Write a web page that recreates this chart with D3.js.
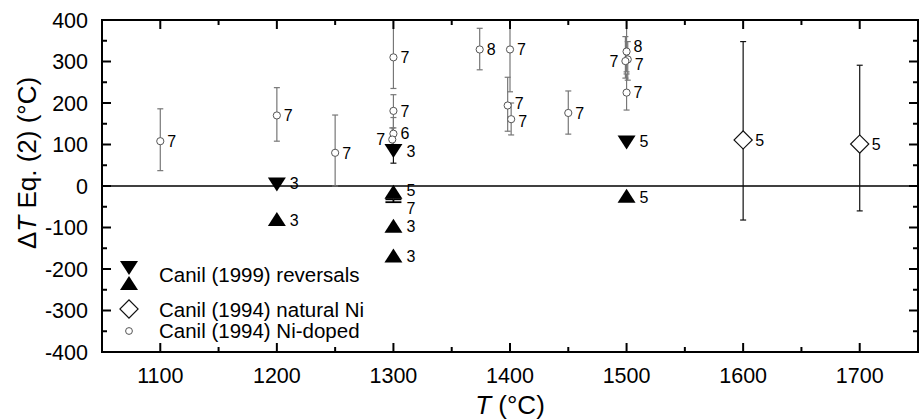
<!DOCTYPE html>
<html>
<head>
<meta charset="utf-8">
<script src="https://cdn.jsdelivr.net/npm/d3@7"></script>
<style>
  body { margin: 0; background: #fff; }
  svg { font-family: "Liberation Sans", Arial, sans-serif; }
</style>
</head>
<body>
<div id="chart"></div>
<script>
// Canil (1994) Ni-doped: [T, dT, errLow, errHigh, n, labelSide]
const niDoped = [
  [1100, 108, 37, 186, "7", "r"],
  [1200, 170, 108, 237, "7", "r"],
  [1250, 80, 0, 171, "7", "r"],
  [1300, 310, 235, 420, "7", "r"],
  [1300, 181, 140, 220, "7", "r"],
  [1300, 126, 100, 165, "6", "r"],
  [1299, 112, 90, 140, "7", "l"],
  [1300, -22, -39, -32, "7", "r"],
  [1374, 329, 280, 380, "8", "r"],
  [1400, 329, 227, 420, "7", "r"],
  [1398, 194, 132, 262, "7", "r"],
  [1401, 161, 123, 200, "7", "r"],
  [1450, 176, 125, 229, "7", "r"],
  [1500, 324, 275, 420, "8", "r"],
  [1501, 305, 255, 348, "7", "r"],
  [1499, 301, 260, 360, "7", "l"],
  [1500, 225, 183, 270, "7", "r"]
];
// Canil (1994) natural Ni: [T, dT, errLow, errHigh, n]
const naturalNi = [
  [1600, 111, -82, 348, "5"],
  [1700, 101, -60, 291, "5"]
];
// Canil (1999) reversals, upper bounds (down triangles): [T, dT, errLow, errHigh, n]
const reversalsDown = [
  [1200, 6, null, null, "3"],
  [1300, 87, 55, 87, "3"],
  [1500, 107, null, null, "5"]
];
// Canil (1999) reversals, lower bounds (up triangles): [T, dT, n]
const reversalsUp = [
  [1200, -82, "3"],
  [1300, -16, "5"],
  [1300, -98, "3"],
  [1300, -170, "3"],
  [1500, -26, "5"]
];
const xTicks = [1100, 1200, 1300, 1400, 1500, 1600, 1700];
const yTicks = [-400, -300, -200, -100, 0, 100, 200, 300, 400];

const W = 921, H = 419;
const margin = { top: 20, right: 3, bottom: 67, left: 102 };
const width = W - margin.left - margin.right;
const height = H - margin.top - margin.bottom;

const x = d3.scaleLinear().domain([1050, 1750]).range([0, width]);
const y = d3.scaleLinear().domain([-400, 400]).range([height, 0]);

const svg = d3.select("#chart").append("svg")
  .attr("width", W).attr("height", H);

const g = svg.append("g")
  .attr("transform", "translate(" + margin.left + "," + margin.top + ")");

g.append("clipPath").attr("id", "clip")
  .append("rect").attr("width", width).attr("height", height);

const plot = g.append("g").attr("clip-path", "url(#clip)");

// zero line
plot.append("line")
  .attr("x1", 0).attr("x2", width)
  .attr("y1", y(0)).attr("y2", y(0))
  .attr("stroke", "#000").attr("stroke-width", 1.6);

function errBar(sel, data, color) {
  const e = sel.selectAll(null).data(data.filter(d => d[2] !== null)).enter().append("g")
    .attr("stroke", d => d[1] < 0 ? "#000" : color)
    .attr("stroke-width", d => d[1] < 0 ? 1.8 : 1.2);
  e.append("line")
    .attr("x1", d => x(d[0])).attr("x2", d => x(d[0]))
    .attr("y1", d => y(d[2])).attr("y2", d => y(d[3]));
  e.append("line")
    .attr("x1", d => x(d[0]) - (d[1] < 0 ? 8 : 3)).attr("x2", d => x(d[0]) + (d[1] < 0 ? 8 : 3))
    .attr("y1", d => y(d[2])).attr("y2", d => y(d[2]));
  e.append("line")
    .attr("x1", d => x(d[0]) - (d[1] < 0 ? 8 : 3)).attr("x2", d => x(d[0]) + (d[1] < 0 ? 8 : 3))
    .attr("y1", d => y(d[3])).attr("y2", d => y(d[3]));
}

errBar(plot, niDoped, "#777");
errBar(plot, naturalNi, "#111");
errBar(plot, reversalsDown, "#111");

// Ni-doped circles
plot.selectAll(".nd").data(niDoped).enter().append("circle")
  .attr("cx", d => x(d[0])).attr("cy", d => y(d[1])).attr("r", 3.6)
  .attr("fill", "#fff").attr("stroke", "#555").attr("stroke-width", 1);

// natural Ni diamonds
const diamond = d3.symbol().type(d3.symbolSquare).size(165);
plot.selectAll(".nn").data(naturalNi).enter().append("path")
  .attr("d", diamond)
  .attr("transform", d => "translate(" + x(d[0]) + "," + y(d[1]) + ") rotate(45)")
  .attr("fill", "#fff").attr("stroke", "#111").attr("stroke-width", 1.2);

// triangles
const triUp = "M0,-8L9,6L-9,6Z";
const triDown = "M0,8L9,-6L-9,-6Z";
plot.selectAll(".rd").data(reversalsDown).enter().append("path")
  .attr("d", triDown)
  .attr("transform", d => "translate(" + x(d[0]) + "," + y(d[1]) + ")")
  .attr("fill", "#000");
plot.selectAll(".ru").data(reversalsUp).enter().append("path")
  .attr("d", triUp)
  .attr("transform", d => "translate(" + x(d[0]) + "," + y(d[1]) + ")")
  .attr("fill", "#000");

// point labels: collect, then push apart ones that sit on top of each other
const labs = [];
function addLabels(data, vi, ni, dx, sideIdx, dy) {
  data.forEach(d => {
    const left = sideIdx !== undefined && d[sideIdx] === "l";
    labs.push({
      x: left ? x(d[0]) - dx : x(d[0]) + dx,
      y: y(d[vi]) + (dy || 0),
      anchor: left ? "end" : "start",
      text: d[ni]
    });
  });
}
addLabels(niDoped.filter(d => d[1] > 0), 1, 4, 7, 5);
addLabels(niDoped.filter(d => d[1] < 0), 2, 4, 13, 5, 4);
addLabels(naturalNi, 1, 4, 12);
addLabels(reversalsDown, 1, 4, 13);
addLabels(reversalsUp, 1, 2, 13);

const minGap = 18;
for (let pass = 0; pass < 3; pass++) {
  for (let i = 0; i < labs.length; i++) {
    for (let j = 0; j < labs.length; j++) {
      const a = labs[i], b = labs[j];
      if (i === j || a.anchor !== b.anchor || Math.abs(a.x - b.x) > 10) continue;
      const gap = b.y - a.y;
      if (gap >= 0 && gap < minGap) {
        const push = (minGap - gap) / 2;
        a.y -= push; b.y += push;
      }
    }
  }
}

g.selectAll(".pl").data(labs).enter().append("text")
  .attr("x", d => d.x).attr("y", d => d.y).attr("dy", "0.36em")
  .attr("text-anchor", d => d.anchor)
  .attr("font-size", 16)
  .text(d => d.text);

// frame
g.append("rect").attr("width", width).attr("height", height)
  .attr("fill", "none").attr("stroke", "#000").attr("stroke-width", 2);

// ticks (inward, on all four sides)
const xMinor = d3.range(1100, 1750, 50);
const yMinor = d3.range(-350, 400, 50);
function tickLen(v, major) { return major.includes(v) ? 9 : 5; }
xMinor.forEach(v => {
  const L = tickLen(v, xTicks);
  g.append("line").attr("x1", x(v)).attr("x2", x(v)).attr("y1", height).attr("y2", height - L)
    .attr("stroke", "#000").attr("stroke-width", 2);
  g.append("line").attr("x1", x(v)).attr("x2", x(v)).attr("y1", 0).attr("y2", L)
    .attr("stroke", "#000").attr("stroke-width", 2);
});
yMinor.forEach(v => {
  const L = tickLen(v, yTicks);
  g.append("line").attr("x1", 0).attr("x2", L).attr("y1", y(v)).attr("y2", y(v))
    .attr("stroke", "#000").attr("stroke-width", 2);
  g.append("line").attr("x1", width).attr("x2", width - L).attr("y1", y(v)).attr("y2", y(v))
    .attr("stroke", "#000").attr("stroke-width", 2);
});

// tick labels
g.selectAll(".xt").data(xTicks).enter().append("text")
  .attr("x", d => x(d)).attr("y", height + 31)
  .attr("text-anchor", "middle").attr("font-size", 21.5).text(d => d);
g.selectAll(".yt").data(yTicks).enter().append("text")
  .attr("x", -14).attr("y", d => y(d)).attr("dy", "0.36em")
  .attr("text-anchor", "end").attr("font-size", 21.5).text(d => d);

// axis titles
const xt = svg.append("text")
  .attr("x", margin.left + width / 2).attr("y", 414)
  .attr("text-anchor", "middle").attr("font-size", 26);
xt.append("tspan").attr("font-style", "italic").text("T");
xt.append("tspan").text(" (°C)");

const yt = svg.append("text")
  .attr("transform", "translate(36,163) rotate(-90)")
  .attr("text-anchor", "middle").attr("font-size", 26);
yt.append("tspan").text("Δ");
yt.append("tspan").attr("font-style", "italic").text("T");
yt.append("tspan").text(" Eq. (2) (°C)");

// legend
const lg = g.append("g");
const lx = 129 - margin.left, tx = 159 - margin.left;
lg.append("path").attr("d", triDown)
  .attr("transform", "translate(" + lx + "," + (267 - margin.top) + ")").attr("fill", "#000");
lg.append("path").attr("d", triUp)
  .attr("transform", "translate(" + lx + "," + (284 - margin.top) + ")").attr("fill", "#000");
lg.append("path").attr("d", diamond)
  .attr("transform", "translate(" + lx + "," + (309 - margin.top) + ") rotate(45)")
  .attr("fill", "#fff").attr("stroke", "#111").attr("stroke-width", 1.2);
lg.append("circle").attr("cx", lx).attr("cy", 331 - margin.top).attr("r", 3.4)
  .attr("fill", "#fff").attr("stroke", "#555");
const legendText = ["Canil (1999) reversals", "Canil (1994) natural Ni", "Canil (1994) Ni-doped"];
const legendY = [275, 309.5, 330.5];
lg.selectAll(".lt").data(legendText).enter().append("text")
  .attr("x", tx).attr("y", (d, i) => legendY[i] - margin.top).attr("dy", "0.36em")
  .attr("font-size", 20.5).text(d => d);
</script>
</body>
</html>
